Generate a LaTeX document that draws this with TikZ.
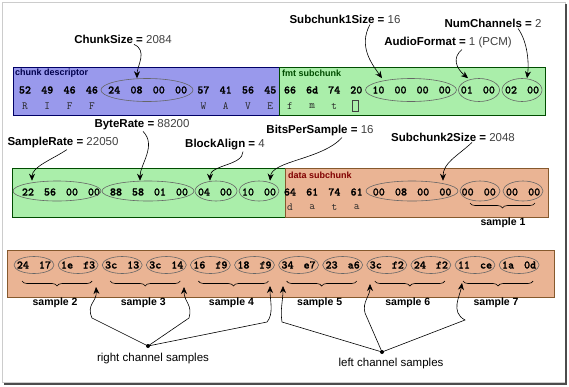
\documentclass[tikz,border=0pt]{standalone}
\usepackage{xcolor}
\usepackage{fontspec}
\setmainfont{Liberation Sans}
\newfontfamily\hexfont{lmmonolt10-bold}[Extension=.otf, FakeBold=1.2]
\usepackage{tikz}
\usetikzlibrary{shapes.geometric, arrows.meta, decorations.pathreplacing}

\definecolor{riffblue}{RGB}{153,153,236}
\definecolor{fmtgreen}{RGB}{170,238,170}
\definecolor{datatan}{RGB}{234,180,148}

\tikzset{
	hexbyte/.style={font=\hexfont\fontsize{11.5}{12}\selectfont, inner sep=0pt},
	ascii/.style={font=\ttfamily\fontsize{11}{11}\selectfont, text=black!85, inner sep=0pt},
	field/.style={draw=black!60, ellipse, inner sep=0pt, line width=0.6pt},
	fieldname/.style={font=\fontsize{11.5}{12}\selectfont, inner sep=1pt},
	chunktag/.style={font=\bfseries\fontsize{9}{9}\selectfont, anchor=west, inner sep=0pt},
	samplename/.style={font=\bfseries\fontsize{10.5}{11}\selectfont, inner sep=0pt},
	pointer/.style={-{Stealth[length=7pt, width=6pt]}, line width=0.6pt},
	samplebrace/.style={decorate, decoration={brace, mirror, amplitude=5pt}, line width=0.6pt},
}
\newcommand{\fieldval}[2]{\textbf{#1 =} {\color{black!75}#2}}

\begin{document}
\begin{tikzpicture}[x=1pt, y=-1pt]
	\useasboundingbox (0,0) rectangle (569,386);
	\draw[black!20] (2,2) rectangle (565,382);
	\draw[black!70, line width=2pt] (566,4) -- (566,384) -- (4,384);

	\draw[draw=blue!40!black, fill=riffblue] (13,67) rectangle (279,115);
	\draw[draw=green!30!black, fill=fmtgreen] (279,67) rectangle (545,115);
	\draw[draw=green!30!black, fill=fmtgreen] (12,168) rectangle (285,217);
	\draw[draw=brown!70!black, fill=datatan] (285,168) rectangle (548,217);
	\draw[draw=brown!70!black, fill=datatan] (7,250) rectangle (554,297);

	\node[chunktag, text=blue!30!black] (riff) at (15,73) {chunk descriptor};
	\node[chunktag, text=green!30!black] (fmt) at (282,73) {fmt subchunk};
	\node[chunktag, text=red!50!black] (data) at (288,175) {data subchunk};

	\foreach \hx [count=\i from 0] in {52,49,46,46,24,08,00,00,57,41,56,45}
		\node[hexbyte] (a\i) at (25+22.3*\i,90) {\hx};
	\foreach \hx [count=\i from 0] in {66,6d,74,20,10,00,00,00,01,00,02,00}
		\node[hexbyte] (b\i) at (290+22.1*\i,90) {\hx};
	\foreach \hx [count=\i from 0] in {22,56,00,00,88,58,01,00,04,00,10,00}
		\node[hexbyte] (c\i) at (28+22*\i,192) {\hx};
	\foreach \hx [count=\i from 0] in {64,61,74,61,00,08,00,00,00,00,00,00}
		\node[hexbyte] (d\i) at (290+22.2*\i,192) {\hx};

	\foreach \ch/\k in {R/0,I/1,F/2,F/3,W/8,A/9,V/10,E/11}
		\node[ascii] (ra\k) at (25+22.3*\k,106) {\ch};
	\foreach \ch/\k in {f/0,m/1,t/2}
		\node[ascii] (fa\k) at (290+22.1*\k,106) {\ch};
	\node[draw=black!75, minimum width=6pt, minimum height=11pt, inner sep=0pt] (fa3) at (355.5,105.5) {};
	\foreach \ch/\k in {d/0,a/1,t/2,a/3}
		\node[ascii] (da\k) at (290+22.2*\k,207) {\ch};

	\node[field, minimum width=92pt, minimum height=23pt] (csf) at (147,90) {};
	\node[field, minimum width=91pt, minimum height=23pt] (s1f) at (411,90) {};
	\node[field, minimum width=41pt, minimum height=23pt] (aff) at (479,90) {};
	\node[field, minimum width=40pt, minimum height=23pt] (ncf) at (522,90) {};
	\node[field, minimum width=88pt, minimum height=20pt] (srf) at (57,191) {};
	\node[field, minimum width=92pt, minimum height=20pt] (brf) at (148,191) {};
	\node[field, minimum width=42pt, minimum height=20pt] (baf) at (216,191) {};
	\node[field, minimum width=40pt, minimum height=20pt] (bpf) at (259,191) {};
	\node[field, minimum width=92pt, minimum height=20pt] (s2f) at (412,191) {};
	\node[field, minimum width=40pt, minimum height=20pt] (l1f) at (480,191) {};
	\node[field, minimum width=40pt, minimum height=20pt] (r1f) at (523,191) {};

	\foreach \p/\q [count=\i from 0] in {24/17,1e/f3,3c/13,3c/14,16/f9,18/f9,34/e7,23/a6,3c/f2,24/f2,11/ce,1a/0d} {
		\node[field, minimum width=40pt, minimum height=17pt] (s\i) at (34+44.1*\i,265) {};
		\node[hexbyte] (sv\i) at (s\i) {\p\hspace{10pt}\q};
	}

	\node[fieldname] (csz) at (123,39) {\fieldval{ChunkSize}{2084}};
	\node[fieldname] (s1z) at (345,19) {\fieldval{Subchunk1Size}{16}};
	\node[fieldname] (afz) at (448,43) {\fieldval{AudioFormat}{1 (PCM)}};
	\node[fieldname] (ncz) at (493,23) {\fieldval{NumChannels}{2}};
	\node[fieldname] (srz) at (63,143) {\fieldval{SampleRate}{22050}};
	\node[fieldname] (brz) at (142,125) {\fieldval{ByteRate}{88200}};
	\node[fieldname] (baz) at (225,145) {\fieldval{BlockAlign}{4}};
	\node[fieldname] (bpz) at (320,131) {\fieldval{BitsPerSample}{16}};
	\node[fieldname] (s2z) at (453,137) {\fieldval{Subchunk2Size}{2048}};

	\draw[pointer] ([xshift=11pt]csz.south) .. controls +(14,6) and +(0,-12) .. ([xshift=-10pt]csf.north);
	\draw[pointer] ([xshift=25pt]s1z.south) .. controls +(-12,22) and +(-10,-14) .. ([xshift=-29pt]s1f.north);
	\draw[pointer] ([xshift=14pt]afz.south) .. controls +(-10,8) and +(-12,-10) .. ([xshift=-11pt]aff.north);
	\draw[pointer] ([xshift=25pt]ncz.south) .. controls +(10,14) and +(2,-14) .. ([xshift=5pt]ncf.north);
	\draw[pointer] ([xshift=4pt]srz.south) .. controls +(-15,10) and +(0,-14) .. ([xshift=-25pt]srf.north);
	\draw[pointer] ([xshift=1pt]brz.south) .. controls +(14,14) and +(0,-16) .. ([xshift=-8pt]brf.north);
	\draw[pointer] ([xshift=18pt]baz.south) .. controls +(0,14) and +(0,-16) .. ([xshift=-6pt]baf.north);
	\draw[pointer] ([xshift=22pt]bpz.south) .. controls +(-20,22) and +(2,-20) .. ([xshift=11pt]bpf.north);
	\draw[pointer] ([xshift=19pt]s2z.south) .. controls +(-15,14) and +(0,-18) .. ([xshift=31pt]s2f.north);

	\draw[samplebrace] (470,203) -- (535,203);
	\node[samplename] (smp1) at (503,223) {sample 1};
	\foreach \k in {2,...,7} {
		\pgfmathsetmacro\bl{34+44.1*(2*\k-4)-12}
		\pgfmathsetmacro\br{34+44.1*(2*\k-3)+14}
		\draw[samplebrace] (\bl,281) -- (\br,281);
		\node[samplename] (smp\k) at ({(\bl+\br)/2-2},303) {sample \k};
	}

	\coordinate (rtip1) at (96,287);
	\coordinate (rtip2) at (184,287);
	\coordinate (rtip3) at (270,286);
	\coordinate (ltip1) at (283,286);
	\coordinate (ltip2) at (370,284);
	\coordinate (ltip3) at (462,283);

	\node[circle, fill, inner sep=0pt, minimum size=4pt] (rdot) at (148,346) {};
	\node[fieldname] (rlbl) at (153,359) {right channel samples};
	\node[circle, fill, inner sep=0pt, minimum size=4pt] (ldot) at (382,352) {};
	\node[fieldname] (llbl) at (391,364) {left channel samples};

	\draw[pointer] (rdot.center) -- (92,318) .. controls (86,304) and (97,302) .. (rtip1);
	\draw[pointer] (rdot.center) -- (189,318) .. controls (193,305) and (184,302) .. (rtip2);
	\draw[pointer] (rdot.center) -- (267,322) .. controls (274,314) and (270,300) .. (rtip3);
	\draw[pointer] (ldot.center) -- (282,322) .. controls (280,310) and (283,300) .. (ltip1);
	\draw[pointer] (ldot.center) -- (365,313) .. controls (362,302) and (370,296) .. (ltip2);
	\draw[pointer] (ldot.center) -- (465,320) .. controls (450,312) and (460,296) .. (ltip3);
\end{tikzpicture}
\end{document}
